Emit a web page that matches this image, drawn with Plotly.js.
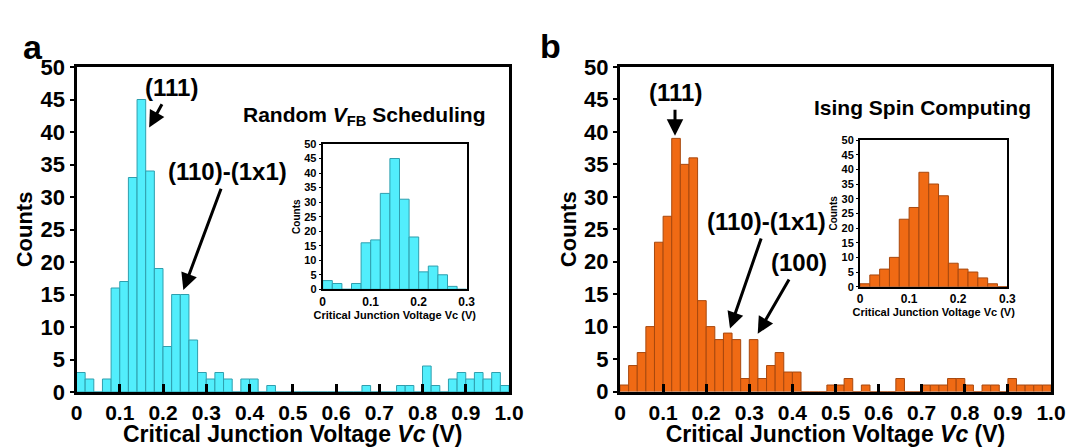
<!DOCTYPE html>
<html><head><meta charset="utf-8">
<script src="https://cdn.plot.ly/plotly-3.0.1.min.js"></script>
<style>html,body{margin:0;padding:0;background:#fff}#chart{width:1071px;height:447px}</style>
</head><body><div id="chart"></div>
<script>
// ---- data ----
const binWidth = 0.02;
const binStart = 0;
const countsRandom = [3,2,0,2,16,17,33,45,34,19,7,15,15,8,3,2,3,2,0,2,2,0,1,0,0,0,0,0,0,0,0,0,0,1,0,0,0,1,1,0,4,1,0,2,3,2,3,2,3,1];
const countsIsing  = [1,4,6,10,23,27,39,35,36,14,10,8,9,8,2,8,2,4,6,3,3,0,0,0,1,1,2,0,1,0,0,0,2,0,0,1,1,1,2,2,1,0,1,1,0,2,1,1,1,1];
const insetRandom = [3,2,0,2,16,17,33,45,31,18,6,8,5,1,0];
const insetIsing  = [1,4,6,10,23,27,39,35,31,8,6,5,3,1,0];
const mainTickVals = [0,0.1,0.2,0.3,0.4,0.5,0.6,0.7,0.8,0.9,1.0];
const mainTickText = ['0','0.1','0.2','0.3','0.4','0.5','0.6','0.7','0.8','0.9','1.0'];
const insetTickVals = [0,0.1,0.2,0.3];
const insetTickText = ['0','0.1','0.2','0.3'];
const xTitle = 'Critical Junction Voltage <i>Vc</i> (V)';
const insetXTitle = 'Critical Junction Voltage Vc (V)';
const yTitle = 'Counts';
const panelTitles = ['Random <i>V</i><sub>FB</sub> Scheduling', 'Ising Spin Computing'];

// ---- styles ----
const FONT = 'Liberation Sans, Arial, Helvetica, sans-serif';
const cyan = '#52EEFC', cyanEdge = '#2f9fae';
const orange = '#F06A14', orangeEdge = '#a8480e';
const W = 1071, H = 447;
const px = v => v / W, py = v => 1 - v / H;

function barTrace(counts, color, edge, xa, ya) {
  return {type:'bar', x0: binStart + binWidth/2, dx: binWidth, y: counts, width: binWidth,
    marker:{color: color, line:{color: edge, width: 1}}, xaxis: xa, yaxis: ya, hoverinfo:'skip', showlegend:false};
}

const data = [
  barTrace(countsRandom, cyan, cyanEdge, 'x', 'y'),
  barTrace(countsIsing, orange, orangeEdge, 'x2', 'y2'),
  barTrace(insetRandom, cyan, cyanEdge, 'x3', 'y3'),
  barTrace(insetIsing, orange, orangeEdge, 'x4', 'y4')
];

function mainX(domain, anchor) {
  return {domain: domain, anchor: anchor, range:[0,1], tickvals: mainTickVals, ticktext: mainTickText,
    ticks:'inside', ticklen:8, tickwidth:3, tickcolor:'#000', showline:true, linewidth:3, linecolor:'#000', mirror:true,
    showgrid:false, zeroline:false, tickfont:{family:FONT, size:21, weight:'bold', color:'#000'},
    title:{text: xTitle, font:{family:FONT, size:23, weight:'bold', color:'#000'}, standoff:3}};
}
function mainY(domain, anchor) {
  return {domain: domain, anchor: anchor, range:[0,50], dtick:5, tick0:0,
    ticks:'outside', ticklen:4, tickwidth:2, tickcolor:'#000', showline:true, linewidth:3, linecolor:'#000', mirror:true,
    showgrid:false, zeroline:false, tickfont:{family:FONT, size:22, weight:'bold', color:'#000'},
    title:{text: yTitle, font:{family:FONT, size:22, weight:'bold', color:'#000'}, standoff:2}};
}
function rightTicks(over, anchor, len, w) {
  return {overlaying: over, anchor: anchor, side:'right', range:[0,50], dtick:5, tick0:0,
    ticks:'inside', ticklen: len, tickwidth: w, tickcolor:'#000', showticklabels:false,
    showline:false, showgrid:false, zeroline:false};
}
function insetX(domain, anchor) {
  return {domain: domain, anchor: anchor, range:[0,0.3], tickvals: insetTickVals, ticktext: insetTickText,
    ticks:'', showline:true, linewidth:2, linecolor:'#000', mirror:true, showgrid:false, zeroline:false,
    tickfont:{family:FONT, size:12, weight:'bold', color:'#000'},
    title:{text: insetXTitle, font:{family:FONT, size:11, weight:'bold', color:'#000'}, standoff:2}};
}
function insetY(domain, anchor) {
  return {domain: domain, anchor: anchor, range:[0,50], dtick:5, tick0:0,
    ticks:'outside', ticklen:2, tickwidth:1, tickcolor:'#000', showline:true, linewidth:2, linecolor:'#000', mirror:true,
    showgrid:false, zeroline:false, tickfont:{family:FONT, size:11, weight:'bold', color:'#000'},
    title:{text: yTitle, font:{family:FONT, size:10, weight:'bold', color:'#000'}, standoff:2}};
}

const annFont = {family:FONT, size:24, weight:'bold', color:'#000'};
function arrowAnn(text, x, y, ax, ay, xr, yr) {
  return {text: text, x: x, y: y, xref: xr, yref: yr, ax: ax, ay: ay, showarrow:true,
    arrowhead:2, arrowsize:1.1, arrowwidth:3, arrowcolor:'#000', standoff:0, startstandoff:2, font: annFont};
}

const layout = {
  width: W, height: H, margin:{l:0, r:0, t:0, b:0},
  paper_bgcolor:'#fff', plot_bgcolor:'rgba(0,0,0,0)', bargap:0, showlegend:false,
  xaxis: mainX([px(76.5), px(509)], 'y'),
  yaxis: mainY([py(392), py(67)], 'x'),
  xaxis2: mainX([px(620), px(1051)], 'y2'),
  yaxis2: mainY([py(391.5), py(67)], 'x2'),
  xaxis3: insetX([px(322.7), px(466.7)], 'y3'),
  yaxis3: insetY([py(289.3), py(144)], 'x3'),
  xaxis4: insetX([px(860), px(1007.3)], 'y4'),
  yaxis4: insetY([py(286.7), py(140)], 'x4'),
  yaxis5: rightTicks('y', 'x', 6, 2),
  yaxis6: rightTicks('y2', 'x2', 6, 2),
  yaxis7: rightTicks('y3', 'x3', 3, 1),
  yaxis8: rightTicks('y4', 'x4', 3, 1),
  annotations: [
    {text:'a', x:px(21), y:py(26), xref:'paper', yref:'paper', showarrow:false, font:{family:FONT, size:34, weight:'bold', color:'#000'}},
    {text:'b', x:px(550), y:py(25), xref:'paper', yref:'paper', showarrow:false, font:{family:FONT, size:34, weight:'bold', color:'#000'}},
    {text: panelTitles[0], x:px(487), y:py(101), xref:'paper', yref:'paper', xanchor:'right', showarrow:false, font:{family:FONT, size:21, weight:'bold', color:'#000'}},
    {text: panelTitles[1], x:px(1033), y:py(94), xref:'paper', yref:'paper', xanchor:'right', showarrow:false, font:{family:FONT, size:21, weight:'bold', color:'#000'}},
    arrowAnn('(111)', 0.168, 40.7, 22, -40, 'x', 'y'),
    arrowAnn('(110)-(1x1)', 0.247, 15.7, 44, -118, 'x', 'y'),
    arrowAnn('(111)', 0.1276, 39.4, 0, -43, 'x2', 'y2'),
    arrowAnn('(110)-(1x1)', 0.2552, 9.7, 37, -107, 'x2', 'y2'),
    arrowAnn('(100)', 0.3195, 8.9, 41, -71, 'x2', 'y2')
  ]
};

Plotly.newPlot('chart', data, layout, {staticPlot:true, displayModeBar:false});
</script>
</body></html>
